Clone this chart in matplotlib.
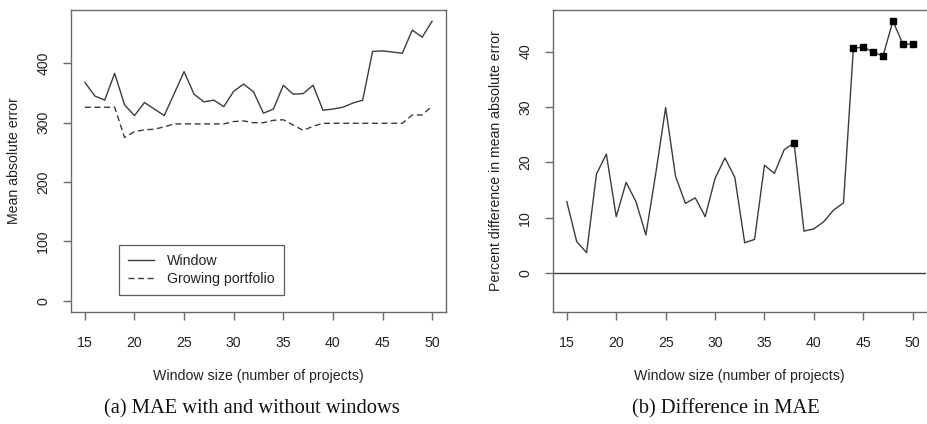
import matplotlib
matplotlib.use("Agg")
import matplotlib.pyplot as plt
import numpy as np

# ---- data ----
window_sizes = list(range(15, 51))
mae_window = [368, 345, 338, 383, 330, 312, 334, 323, 312, 349, 386, 348,
              335, 338, 327, 353, 365, 352, 316, 323, 363, 348, 349, 363,
              321, 323, 326, 333, 338, 420, 421, 419, 417, 456, 444, 471]
mae_growing = [326, 326, 326, 326, 275, 285, 288, 289, 293, 298, 298, 298,
               298, 298, 298, 302, 303, 300, 300, 304, 305, 296, 287, 294,
               299, 299, 299, 299, 299, 299, 299, 299, 299, 313, 313, 328]
pct_diff = [12.9, 5.7, 3.7, 17.9, 21.5, 10.2, 16.4, 12.9, 6.9, 18.0, 29.9, 17.5,
            12.6, 13.6, 10.2, 17.1, 20.8, 17.3, 5.5, 6.1, 19.5, 18.0, 22.3, 23.5,
            7.6, 8.0, 9.3, 11.4, 12.7, 40.6, 40.8, 39.9, 39.2, 45.5, 41.4, 41.3]
marked_sizes = [38, 44, 45, 46, 47, 48, 49, 50]

x_ticks = [15, 20, 25, 30, 35, 40, 45, 50]
left_yticks = [0, 100, 200, 300, 400]
right_yticks = [0, 10, 20, 30, 40]
legend_labels = ["Window", "Growing portfolio"]
x_label = "Window size (number of projects)"
left_ylabel = "Mean absolute error"
right_ylabel = "Percent difference in mean absolute error"
caption_a = "(a) MAE with and without windows"
caption_b = "(b) Difference in MAE"

# ---- style ----
W, H = 927, 424
fig = plt.figure(figsize=(W / 100, H / 100), dpi=100)
plt.rcParams['font.family'] = ['Liberation Sans', 'DejaVu Sans']

line_col = '#3c3c3c'
spine_col = '#6a6a6a'
text_col = '#222222'
fs = 10.2


def px_axes(x0, x1, y_top, y_bot):
    return fig.add_axes([x0 / W, 1 - y_bot / H, (x1 - x0) / W, (y_bot - y_top) / H])


def style(ax):
    for s in ax.spines.values():
        s.set_color(spine_col)
        s.set_linewidth(1.0)
    ax.tick_params(axis='both', direction='out', length=6, width=1.0,
                   color=spine_col, labelcolor=text_col, labelsize=fs)
    ax.tick_params(axis='x', pad=11)
    ax.tick_params(axis='y', pad=9)
    for lab in ax.get_yticklabels():
        lab.set_rotation(90)
        lab.set_va('center')


# Left panel
ax1 = px_axes(71, 446, 10, 312)
ax1.plot(window_sizes, mae_window, color=line_col, lw=1.0, ls='-', label=legend_labels[0])
ax1.plot(window_sizes, mae_growing, color=line_col, lw=1.0, ls=(0, (4.3, 2.6)),
         label=legend_labels[1])
ax1.set_xlim(13.6, 51.4)
ax1.set_ylim(-18.8, 489.8)
ax1.set_xticks(x_ticks)
ax1.set_yticks(left_yticks)
style(ax1)
ax1.set_xlabel(x_label, fontsize=fs, color=text_col, labelpad=14)
ax1.set_ylabel(left_ylabel, fontsize=fs, color=text_col, labelpad=11)
leg = ax1.legend(loc='upper left', bbox_to_anchor=((119 - 71) / 375, (312 - 245) / 302),
                 borderaxespad=0, fancybox=False, frameon=True, fontsize=fs,
                 handlelength=1.85, handletextpad=0.9, borderpad=0.65,
                 labelspacing=0.25)
leg.get_frame().set_edgecolor('#333333')
leg.get_frame().set_linewidth(0.9)
for t in leg.get_texts():
    t.set_color(text_col)

# Right panel
ax2 = px_axes(553, 926.5, 10, 312)
ax2.axhline(0, color=line_col, lw=1.0)
ax2.plot(window_sizes, pct_diff, color=line_col, lw=1.0)
mx = [w for w in window_sizes if w in marked_sizes]
my = [v for w, v in zip(window_sizes, pct_diff) if w in marked_sizes]
ax2.plot(mx, my, ls='none', marker='s', ms=5.0, color='black')
ax2.set_xlim(13.6, 51.4)
ax2.set_ylim(-7.0, 47.5)
ax2.set_xticks(x_ticks)
ax2.set_yticks(right_yticks)
style(ax2)
ax2.spines['right'].set_visible(False)
ax2.set_xlabel(x_label, fontsize=fs, color=text_col, labelpad=14)
ax2.set_ylabel(right_ylabel, fontsize=fs, color=text_col, labelpad=11)

# Captions
fig.text(252 / W, 1 - 409 / H, caption_a, ha='center', va='center',
         family=['Liberation Serif', 'DejaVu Serif'], fontsize=14.8, color='#111111')
fig.text(726 / W, 1 - 409 / H, caption_b, ha='center', va='center',
         family=['Liberation Serif', 'DejaVu Serif'], fontsize=14.8, color='#111111')

fig.savefig('out.png', dpi=100)
